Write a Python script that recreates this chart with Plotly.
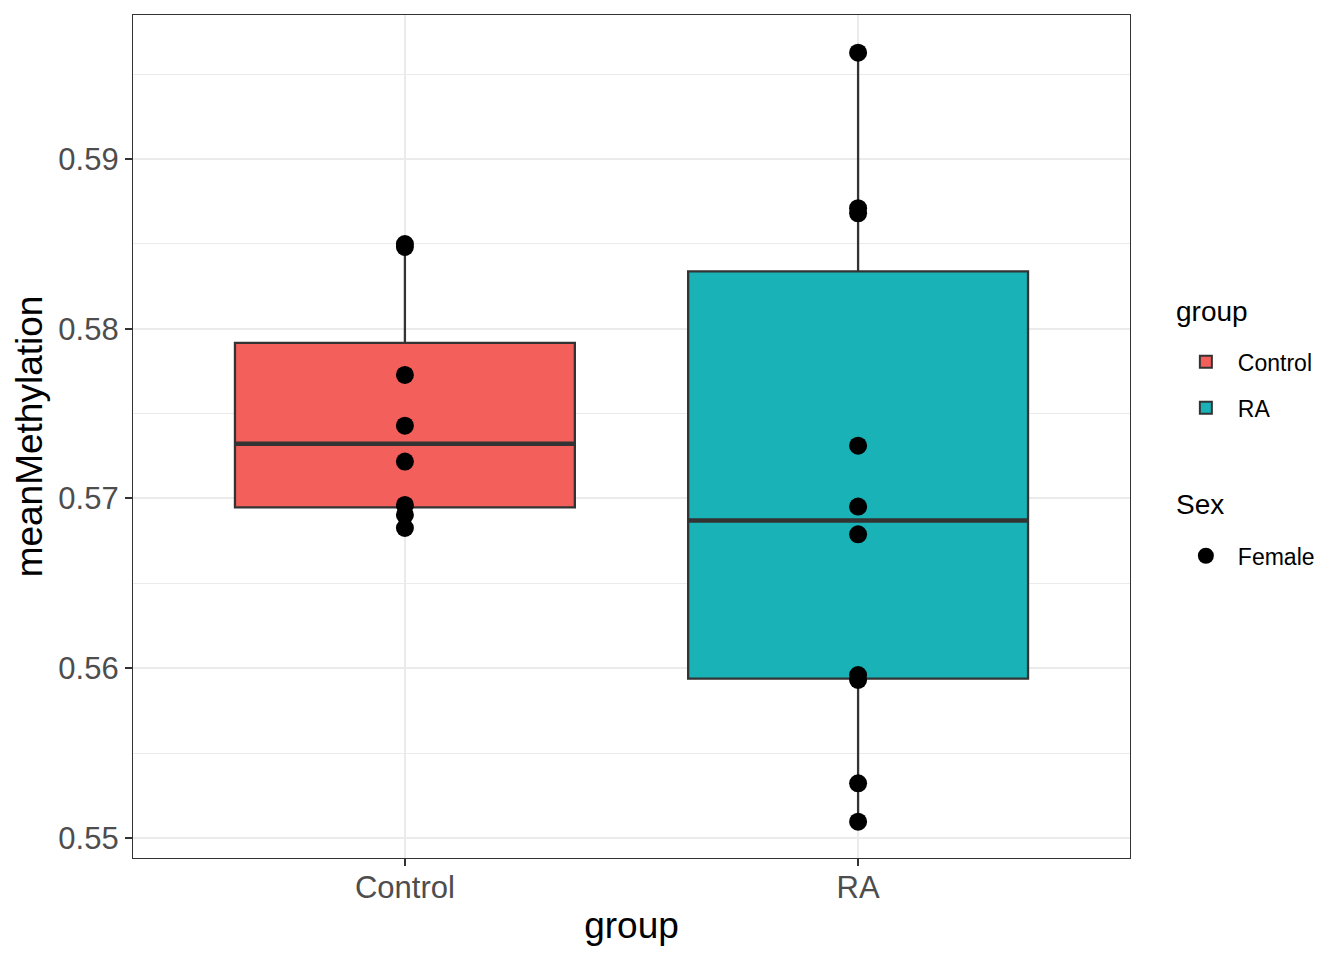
import numpy as np
import plotly.graph_objects as go

groups = ["Control", "RA"]
control_vals = [0.58499, 0.58482, 0.57728, 0.57429, 0.57217, 0.56962, 0.56903, 0.56826]
ra_vals = [0.59626, 0.58710, 0.58680, 0.57311, 0.56952, 0.56789, 0.55960, 0.55931, 0.55322, 0.55096]
sex_label = "Female"
fill_colors = ["#F35F5B", "#19B3B7"]

y_ticks = [0.55, 0.56, 0.57, 0.58, 0.59]
y_ticklabels = ["0.55", "0.56", "0.57", "0.58", "0.59"]

FONT = "Liberation Sans, Arial, Helvetica, sans-serif"
EDGE = "#333333"


def stats(v):
    a = np.asarray(v)
    q1, med, q3 = np.percentile(a, [25, 50, 75])
    iqr = q3 - q1
    lo = a[a >= q1 - 1.5 * iqr].min()
    hi = a[a <= q3 + 1.5 * iqr].max()
    return q1, med, q3, lo, hi


fig = go.Figure()
data = [control_vals, ra_vals]
box_w = 0.75

for i, (g, vals, col) in enumerate(zip(groups, data, fill_colors)):
    pos = i + 1
    q1, med, q3, lo, hi = stats(vals)
    fig.add_trace(go.Box(
        x=[pos], q1=[q1], median=[med], q3=[q3], lowerfence=[lo], upperfence=[hi],
        width=box_w, whiskerwidth=0, fillcolor=col, line=dict(color=EDGE, width=2.3),
        boxpoints=False, name=g, legend="legend", legendgroup=g,
        hoverinfo="skip",
    ))

# thicker median lines
for i, vals in enumerate(data):
    pos = i + 1
    _, med, _, _, _ = stats(vals)
    fig.add_trace(go.Scatter(
        x=[pos - box_w / 2, pos + box_w / 2], y=[med, med], mode="lines",
        line=dict(color=EDGE, width=4.5), showlegend=False, hoverinfo="skip",
    ))

xs = [1] * len(control_vals) + [2] * len(ra_vals)
ys = control_vals + ra_vals
fig.add_trace(go.Scatter(
    x=xs, y=ys, mode="markers", name=sex_label,
    marker=dict(color="black", size=18, line=dict(width=0)),
    legend="legend2",
))

fig.update_layout(
    width=1336, height=952,
    margin=dict(l=125, r=214, t=7, b=102),
    paper_bgcolor="white", plot_bgcolor="white",
    font=dict(family=FONT, color="black"),
    showlegend=True,
    legend=dict(
        font=dict(size=23, color="black"),
        x=1.044, xanchor="left", y=0.614, yanchor="top",
        itemsizing="constant", itemwidth=54, tracegroupgap=13,
        bgcolor="rgba(0,0,0,0)",
    ),
    legend2=dict(
        font=dict(size=23, color="black"),
        x=1.044, xanchor="left", y=0.384, yanchor="top",
        itemsizing="trace", itemwidth=54, bgcolor="rgba(0,0,0,0)",
    ),
    annotations=[
        dict(text="group", xref="paper", yref="paper", x=1.0442, y=0.6477,
             xanchor="left", yanchor="middle", showarrow=False,
             font=dict(size=28, color="black", family=FONT)),
        dict(text="Sex", xref="paper", yref="paper", x=1.0442, y=0.4199,
             xanchor="left", yanchor="middle", showarrow=False,
             font=dict(size=28, color="black", family=FONT)),
    ],
)

fig.update_xaxes(
    range=[0.4, 2.6], tickmode="array", tickvals=[1, 2], ticktext=groups,
    showgrid=True, gridcolor="#EBEBEB", gridwidth=2, zeroline=False,
    ticks="outside", ticklen=7, tickwidth=2, tickcolor=EDGE,
    ticklabelstandoff=-5,
    tickfont=dict(size=31, color="#4D4D4D", family=FONT),
    showline=True, linecolor=EDGE, linewidth=1.3, mirror=True,
    title=dict(text="group", font=dict(size=37, color="black", family=FONT), standoff=7),
)
fig.update_yaxes(
    range=[0.54882, 0.59848], tickmode="array", tickvals=y_ticks, ticktext=y_ticklabels,
    showgrid=True, gridcolor="#EBEBEB", gridwidth=2, zeroline=False,
    minor=dict(dtick=0.005, showgrid=True, gridcolor="#EBEBEB", gridwidth=1, ticks=""),
    ticks="outside", ticklen=7, tickwidth=2, tickcolor=EDGE,
    tickfont=dict(size=31, color="#4D4D4D", family=FONT),
    showline=True, linecolor=EDGE, linewidth=1.3, mirror=True,
    title=dict(text="meanMethylation", font=dict(size=37, color="black", family=FONT), standoff=4),
)

fig.write_html("out.html")
